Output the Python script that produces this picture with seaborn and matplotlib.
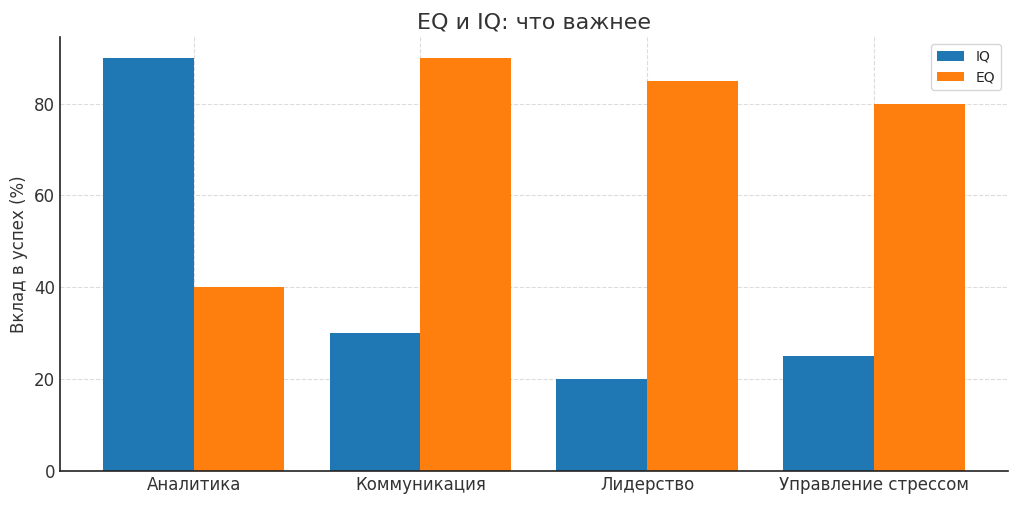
import matplotlib
matplotlib.use("Agg")
import matplotlib.pyplot as plt
import seaborn as sns
import pandas as pd

categories = ["Аналитика", "Коммуникация", "Лидерство", "Управление стрессом"]
iq_values = [90, 30, 20, 25]
eq_values = [40, 90, 85, 80]
series_names = ["IQ", "EQ"]

df = pd.DataFrame({
    "category": categories * 2,
    "value": iq_values + eq_values,
    "type": [series_names[0]] * len(categories) + [series_names[1]] * len(categories),
})

sns.set_style("whitegrid", {"grid.linestyle": "--", "grid.color": "#dcdcdc"})
plt.rcParams['font.family'] = ['DejaVu Sans']
text_color = "#333333"

fig = plt.figure(figsize=(10.24, 5.09), dpi=100)
ax = fig.add_axes([0.0586, 0.0747, 0.9254, 0.8526])

sns.barplot(data=df, x="category", y="value", hue="type",
            palette=["#1f77b4", "#ff7f0e"], width=0.8, saturation=1,
            linewidth=0, ax=ax, zorder=2)

ax.set_title("EQ и IQ: что важнее", fontsize=16, color=text_color)
ax.set_xlabel("")
ax.set_ylabel("Вклад в успех (%)", fontsize=12, color=text_color)
ax.tick_params(axis="both", labelsize=12, colors=text_color, length=3, direction="in")
ax.set_yticks([0, 20, 40, 60, 80])
ax.set_ylim(0, 94.5)
ax.set_xlim(-0.59, 3.59)

for side in ["top", "right"]:
    ax.spines[side].set_visible(False)
for side in ["left", "bottom"]:
    ax.spines[side].set_color("#222222")
    ax.spines[side].set_linewidth(1.2)

ax.grid(True, linestyle="--", color="#dcdcdc", linewidth=0.8, zorder=0)
ax.set_axisbelow(True)

ax.legend(title=None, loc="upper right", fontsize=10, frameon=True)

fig.savefig("out.png", dpi=100)
